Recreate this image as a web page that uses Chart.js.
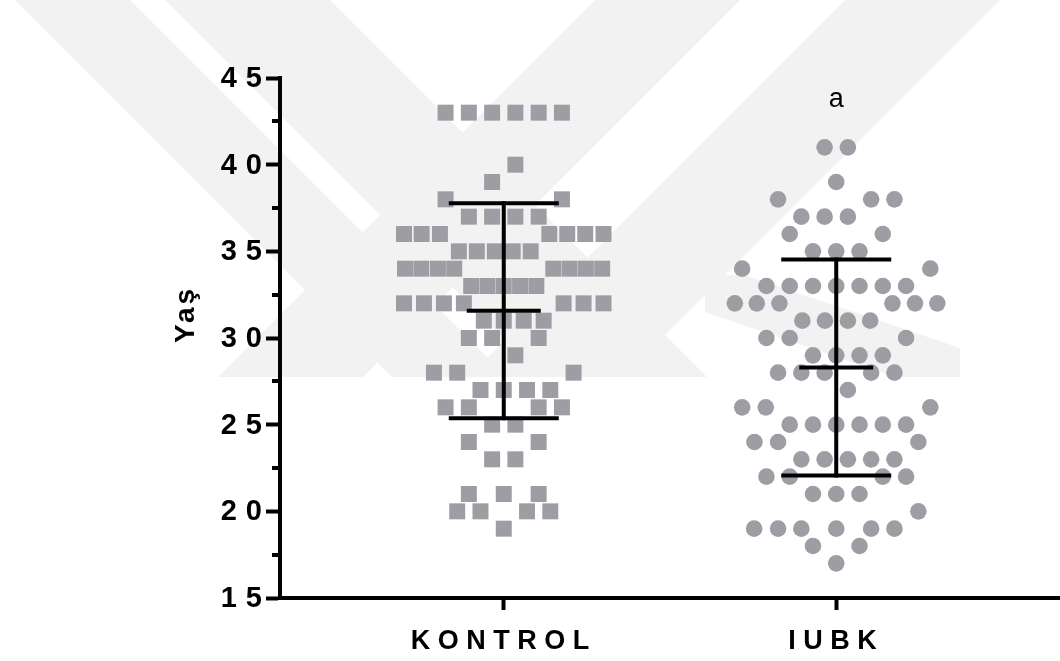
<!DOCTYPE html>
<html>
<head>
<meta charset="utf-8">
<script src="https://cdn.jsdelivr.net/npm/chart.js@4.4.1/dist/chart.umd.min.js"></script>
<style>
  html, body { margin: 0; padding: 0; background: #fff; }
  #wrap { width: 1060px; height: 661px; }
</style>
</head>
<body>
<div id="wrap"><canvas id="c" width="1060" height="661"></canvas></div>
<script>
/* ---- data (one entry per subject) ---- */
var groups = ["KONTROL", "IUBK"];
var yTitle = "Yaş";

var kontrolAge = [
  43, 43, 43, 43, 43, 43,
  40, 39, 38, 38,
  37, 37, 37, 37,
  36, 36, 36, 36, 36, 36, 36,
  35, 35, 35, 35, 35,
  34, 34, 34, 34, 34, 34, 34, 34,
  33, 33, 33, 33, 33,
  32, 32, 32, 32, 32, 32, 32,
  31, 31, 31, 31,
  30, 30, 30, 29,
  28, 28, 28,
  27, 27, 27, 27,
  26, 26, 26, 26,
  25, 25, 24, 24, 23, 23,
  21, 21, 21,
  20, 20, 20, 20,
  19
];
/* horizontal spread of each square inside its column (x units) */
var kontrolJitter = [
  -0.175, -0.105, -0.035, 0.035, 0.105, 0.175,
  0.035, -0.035, -0.175, 0.175,
  -0.105, -0.035, 0.035, 0.105,
  -0.300, -0.247, -0.192, 0.137, 0.191, 0.245, 0.300,
  -0.135, -0.081, -0.027, 0.027, 0.081,
  -0.297, -0.248, -0.198, -0.149, 0.149, 0.198, 0.247, 0.296,
  -0.098, -0.049, 0, 0.049, 0.098,
  -0.300, -0.240, -0.180, -0.120, 0.180, 0.240, 0.300,
  -0.060, 0, 0.060, 0.120,
  -0.105, -0.035, 0.105, 0.035,
  -0.210, -0.140, 0.210,
  -0.070, 0, 0.070, 0.140,
  -0.175, -0.105, 0.105, 0.175,
  -0.035, 0.035, -0.105, 0.105, -0.035, 0.035,
  -0.105, 0, 0.105,
  -0.140, -0.070, 0.070, 0.140,
  0
];

var iubkAge = [
  41, 41, 39,
  38, 38, 38,
  37, 37, 37,
  36, 36,
  35, 35, 35,
  34, 34,
  33, 33, 33, 33, 33, 33, 33,
  32, 32, 32, 32, 32, 32,
  31, 31, 31, 31,
  30, 30, 30,
  29, 29, 29, 29,
  28, 28, 28, 28, 28,
  27,
  26, 26, 26,
  25, 25, 25, 25, 25, 25,
  24, 24, 24,
  23, 23, 23, 23, 23,
  22, 22, 22, 22,
  21, 21, 21,
  20,
  19, 19, 19, 19, 19, 19,
  18, 18,
  17
];
var iubkJitter = [
  -0.035, 0.035, 0,
  -0.175, 0.105, 0.175,
  -0.105, -0.035, 0.035,
  -0.140, 0.140,
  -0.070, 0, 0.070,
  -0.283, 0.283,
  -0.210, -0.140, -0.070, 0, 0.070, 0.140, 0.210,
  -0.305, -0.239, -0.171, 0.169, 0.237, 0.304,
  -0.102, -0.034, 0.035, 0.102,
  -0.210, -0.140, 0.210,
  -0.070, 0, 0.070, 0.140,
  -0.175, -0.105, -0.035, 0.105, 0.175,
  0.035,
  -0.283, -0.212, 0.283,
  -0.140, -0.070, 0, 0.070, 0.140, 0.210,
  -0.246, -0.175, 0.247,
  -0.105, -0.035, 0.035, 0.105, 0.175,
  -0.210, -0.140, 0.140, 0.210,
  -0.070, 0, 0.070,
  0.247,
  -0.247, -0.175, -0.105, 0, 0.105, 0.175,
  -0.070, 0.070,
  0
];

var yMin = 15, yMax = 45, yStep = 5;
var annotations = [{ group: 2, text: "a", y: 43.75 }];

/* ---- helpers ---- */
function mean(a) {
  return a.reduce(function (s, v) { return s + v; }, 0) / a.length;
}
function sd(a) {
  var m = mean(a);
  return Math.sqrt(a.reduce(function (s, v) { return s + (v - m) * (v - m); }, 0) / (a.length - 1));
}
function points(ages, jitter, groupIndex) {
  return ages.map(function (v, i) { return { x: groupIndex + jitter[i], y: v }; });
}

var FONT = '"Liberation Sans", Arial, Helvetica, sans-serif';
var DOT = "#9e9da3";

/* faint thesis watermark behind everything */
var watermark = {
  id: "watermark",
  beforeDraw: function (chart) {
    var ctx = chart.ctx;
    ctx.save();
    ctx.fillStyle = "#fff";
    ctx.fillRect(0, 0, chart.width, chart.height);
    ctx.fillStyle = "#f2f2f2";
    var bands = [
      [[15, 0], [130, 0], [507, 377], [392, 377]],
      [[165, 0], [330, 0], [707, 377], [542, 377]],
      [[595, 0], [740, 0], [363, 377], [218, 377]],
      [[845, 0], [1000, 0], [623, 377], [468, 377]],
      [[705, 275], [745, 275], [960, 348], [960, 377], [895, 377], [705, 312]]
    ];
    bands.forEach(function (b) {
      ctx.beginPath();
      ctx.moveTo(b[0][0], b[0][1]);
      for (var i = 1; i < b.length; i++) ctx.lineTo(b[i][0], b[i][1]);
      ctx.closePath();
      ctx.fill();
    });
    ctx.restore();
    /* spaced-out lettering, as in the original export */
    ctx.letterSpacing = "7.5px";
  }
};

/* minor ticks between the labelled ones */
var minorTicks = {
  id: "minorTicks",
  afterDraw: function (chart) {
    var ys = chart.scales.y, ctx = chart.ctx, left = chart.chartArea.left;
    ctx.save();
    ctx.strokeStyle = "#000";
    ctx.lineWidth = 4;
    for (var v = yMin + yStep / 2; v < yMax; v += yStep) {
      var y = Math.round(ys.getPixelForValue(v));
      ctx.beginPath();
      ctx.moveTo(left - 8, y);
      ctx.lineTo(left, y);
      ctx.stroke();
    }
    ctx.restore();
  }
};

/* mean ± SD bars drawn over the dots */
var errorBars = {
  id: "errorBars",
  afterDatasetsDraw: function (chart) {
    var xs = chart.scales.x, ys = chart.scales.y, ctx = chart.ctx;
    ctx.save();
    ctx.strokeStyle = "#000";
    ctx.lineWidth = 4;
    [kontrolAge, iubkAge].forEach(function (vals, i) {
      var m = mean(vals), s = sd(vals);
      var cx = xs.getPixelForValue(i + 1);
      var yt = ys.getPixelForValue(m + s), ym = ys.getPixelForValue(m), yb = ys.getPixelForValue(m - s);
      var seg = function (x0, y0, x1, y1) {
        ctx.beginPath(); ctx.moveTo(x0, y0); ctx.lineTo(x1, y1); ctx.stroke();
      };
      seg(cx, yt - 2, cx, yb + 2);
      seg(cx - 55, yt, cx + 55, yt);
      seg(cx - 37, ym, cx + 37, ym);
      seg(cx - 55, yb, cx + 55, yb);
    });
    ctx.restore();
  }
};

/* y tick numbers (wider spacing than the category names), "a" marker, y title */
var annotate = {
  id: "annotate",
  afterDraw: function (chart) {
    var xs = chart.scales.x, ys = chart.scales.y, ctx = chart.ctx;
    var left = chart.chartArea.left;
    var sp = 9;
    ctx.save();
    ctx.fillStyle = "#000";

    ctx.font = "bold 29px " + FONT;
    ctx.letterSpacing = sp + "px";
    ctx.textAlign = "right";
    ctx.textBaseline = "middle";
    ys.ticks.forEach(function (t) {
      ctx.fillText(String(t.value), left - 18 + sp, ys.getPixelForValue(t.value) + 1);
    });

    ctx.letterSpacing = "0px";
    ctx.font = "27px " + FONT;
    ctx.textAlign = "center";
    annotations.forEach(function (a) {
      ctx.fillText(a.text, xs.getPixelForValue(a.group), ys.getPixelForValue(a.y));
    });

    ctx.translate(186, ys.getPixelForValue(31.3));
    ctx.rotate(-Math.PI / 2);
    ctx.letterSpacing = "3px";
    ctx.font = "bold 28px " + FONT;
    ctx.fillText(yTitle, 1, 0);
    ctx.restore();
  }
};

new Chart(document.getElementById("c").getContext("2d"), {
  type: "scatter",
  data: {
    datasets: [
      {
        label: groups[0],
        data: points(kontrolAge, kontrolJitter, 1),
        pointStyle: "rect",
        pointRadius: 11.3,
        pointHoverRadius: 11.3,
        backgroundColor: DOT,
        borderWidth: 0
      },
      {
        label: groups[1],
        data: points(iubkAge, iubkJitter, 2),
        pointStyle: "circle",
        pointRadius: 8.3,
        pointHoverRadius: 8.3,
        backgroundColor: DOT,
        borderWidth: 0
      }
    ]
  },
  options: {
    responsive: false,
    animation: false,
    devicePixelRatio: 1,
    layout: { autoPadding: false, padding: { top: 78, right: 0, bottom: 0, left: 0 } },
    plugins: { legend: { display: false }, tooltip: { enabled: false } },
    events: [],
    scales: {
      x: {
        type: "linear",
        min: 0.327,
        max: 2.673,
        afterBuildTicks: function (scale) {
          scale.ticks = groups.map(function (g, i) { return { value: i + 1 }; });
        },
        afterFit: function (scale) {
          scale.height = 63;
          scale.paddingLeft = 0;
          scale.paddingRight = 0;
        },
        ticks: {
          color: "#000",
          font: { family: FONT, size: 27, weight: "bold" },
          padding: 15,
          maxRotation: 0,
          callback: function (v) { return groups[v - 1]; }
        },
        grid: { drawOnChartArea: false, drawTicks: true, tickLength: 12, tickWidth: 4, tickColor: "#000" },
        border: { display: true, color: "#000", width: 4 }
      },
      y: {
        min: yMin,
        max: yMax,
        afterFit: function (scale) {
          scale.width = 280;
          scale.paddingTop = 0;
          scale.paddingBottom = 0;
        },
        ticks: { stepSize: yStep, display: false },
        grid: { drawOnChartArea: false, drawTicks: true, tickLength: 14, tickWidth: 4, tickColor: "#000" },
        border: { display: true, color: "#000", width: 4 },
        title: { display: false }
      }
    }
  },
  plugins: [watermark, errorBars, minorTicks, annotate]
});
</script>
</body>
</html>
